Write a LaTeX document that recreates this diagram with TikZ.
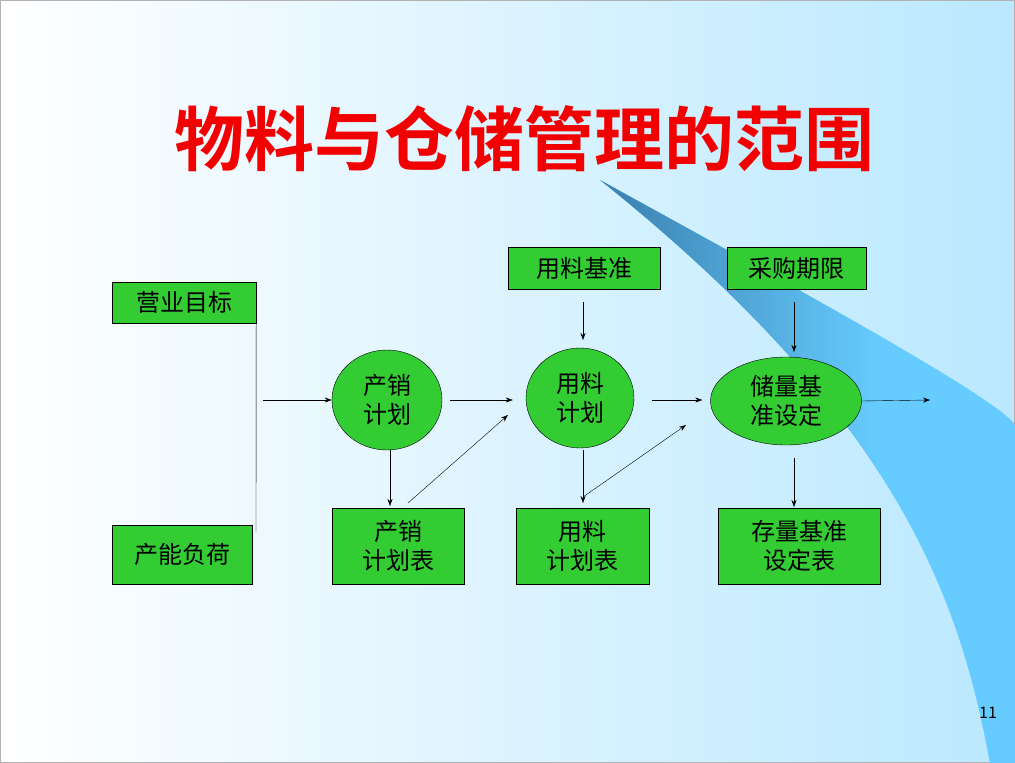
\documentclass[tikz,border=0pt]{standalone}
\usepackage{fontspec}
\setmainfont{Noto Sans CJK SC}
\newfontfamily\cjkb{Noto Sans CJK SC Bold}
\usetikzlibrary{shapes.geometric,arrows.meta}
\definecolor{gbox}{HTML}{33CC33}
\definecolor{lb}{HTML}{66CCFF}
\definecolor{db}{HTML}{3A7FAE}
\begin{document}
\begin{tikzpicture}[x=1pt,y=-1pt,
  bx/.style={draw=black,fill=gbox,inner sep=0pt,font=\fontsize{24}{29}\selectfont,align=center},
  el/.style={draw=black,fill=gbox,ellipse,inner sep=0pt,font=\fontsize{24}{29}\selectfont,align=center},
  ar/.style={-{Stealth[length=7pt,width=5pt]},thin}]
\useasboundingbox (0,0) rectangle (1015,763);
\shade[left color=white,right color=lb!45] (0,0) rectangle (1015,763);
\draw[gray!60] (0.5,0.5) rectangle (1014.5,762.5);
% swoosh
\begin{scope}
\clip (600,180) .. controls (800,290) and (1000,400) .. (1015,425) -- (1015,763) -- (990,763)
  .. controls (960,600) and (900,420) .. (600,180) -- cycle;
\fill[lb] (590,170) rectangle (1015,763);
\shade[left color=db,right color=lb] (600,170) rectangle (880,763);
\fill[lb,opacity=0.6] (870,170) rectangle (1015,763);
\end{scope}
% title
\node[text=red!95!black,font=\cjkb\fontsize{70}{80}\selectfont] (title) at (524,139) {物料与仓储管理的范围};
% nodes
\node[bx,minimum width=144,minimum height=41] (yy) at (184,302.5) {营业目标};
\node[bx,minimum width=140,minimum height=59] (cn) at (182,554.5) {产能负荷};
\node[el,minimum width=110,minimum height=100] (cx) at (387,400) {产销\\计划};
\node[el,minimum width=108,minimum height=100] (yl) at (580,398) {用料\\计划};
\node[el,minimum width=151,minimum height=88] (cl) at (786,401) {储量基\\准设定};
\node[bx,minimum width=152,minimum height=42] (yj) at (584,268) {用料基准};
\node[bx,minimum width=139,minimum height=42] (cg) at (796.5,268) {采购期限};
\node[bx,minimum width=132,minimum height=76] (cxb) at (398,546) {产销\\计划表};
\node[bx,minimum width=133,minimum height=76] (ylb) at (582.5,546) {用料\\计划表};
\node[bx,minimum width=162,minimum height=76] (clb) at (799,546) {存量基准\\设定表};
\node[font=\fontsize{16}{18}\selectfont] (pg) at (988,713) {11};
% connectors
\coordinate (v1) at (256,532);
\coordinate (s1) at (263,400);
\draw (yy.south east) -- (v1);
\draw[ar] (s1) -- (cx.west);
\draw[ar] ([xshift=8pt]cx.east) -- ([xshift=-13pt]yl.west |- cx.east);
\draw[ar] ([xshift=18pt]yl.east |- cx.east) -- ([xshift=-8pt]cl.west |- cx.east);
\coordinate (o1) at (930,400);
\draw[ar] (cl.east) -- (o1);
\draw[ar] (583,302) -- (583,340);
\draw[ar] (794,302) -- (794,352);
\draw[ar] (390,450) -- (390,506);
\draw[ar] (583,450) -- (583,503);
\draw[ar] (794,458) -- (794,507);
\coordinate (d1) at (508,415);
\coordinate (d2) at (686,425);
\draw[ar] (408,503) -- (d1);
\draw[ar] (583,497) -- (d2);
\end{tikzpicture}
\end{document}
